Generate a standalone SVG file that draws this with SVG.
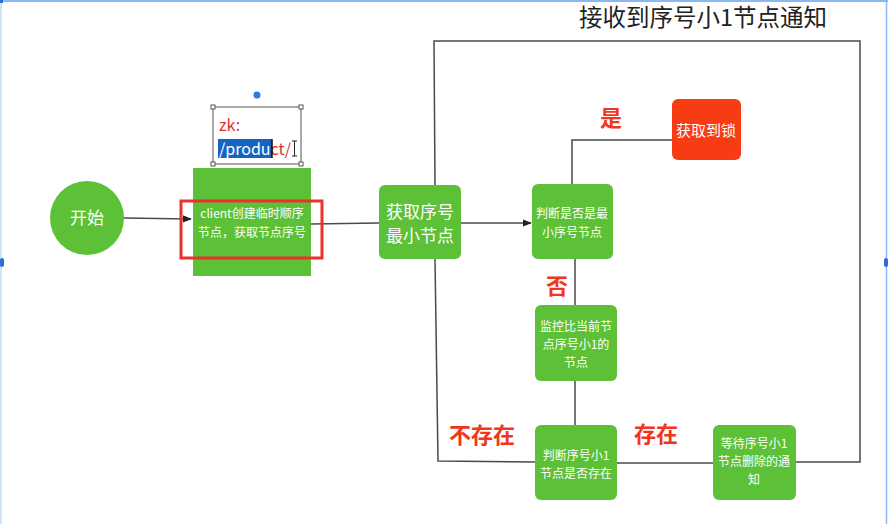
<svg xmlns="http://www.w3.org/2000/svg" width="888" height="524" viewBox="0 0 888 524">
  <style>
    text { font-family: "Noto Sans CJK SC", "Liberation Sans", sans-serif; }
    .node { fill: #5cc136; }
    .lock { fill: #f73b12; }
    .lbl { fill: #ffffff; text-anchor: middle; }
    .small { font-size: 12px; }
    .big { font-size: 17px; }
    .tag { fill: #f2361a; font-size: 22px; font-weight: bold; text-anchor: middle; }
    .wire { fill: none; stroke: #4a4a4a; stroke-width: 1.5; }
    .handle { fill: #ffffff; stroke: #555555; stroke-width: 1; }
  </style>
  <defs>
    <marker id="arrow" viewBox="0 0 10 10" refX="9" refY="5" markerWidth="6" markerHeight="6" orient="auto">
      <path d="M0,1 L10,5 L0,9 z" fill="#222222"/>
    </marker>
  </defs>

  <rect width="888" height="524" fill="#ffffff"/>

  <!-- canvas selection frame -->
  <g id="frame">
    <line x1="0" y1="1" x2="888" y2="1" stroke="#8ab8f2" stroke-width="2"/>
    <line x1="1" y1="0" x2="1" y2="524" stroke="#cfe3fb" stroke-width="2"/>
    <line x1="886.5" y1="0" x2="886.5" y2="524" stroke="#8ab8f2" stroke-width="1.5"/>
    <rect x="0" y="0" width="3" height="3" fill="#2b6fd6"/>
    <rect x="0" y="258" width="4" height="9" rx="2" fill="#2b6fd6"/>
    <rect x="884" y="258" width="4" height="9" rx="2" fill="#2b6fd6"/>
  </g>

  <!-- title -->
  <text x="703" y="26" font-size="23.5" fill="#222222" text-anchor="middle">接收到序号小1节点通知</text>

  <!-- connectors -->
  <g id="connectors">
    <line class="wire" x1="124" y1="218" x2="191" y2="219" marker-end="url(#arrow)"/>
    <line class="wire" x1="311" y1="224" x2="379" y2="223"/>
    <line class="wire" x1="461" y1="223" x2="531" y2="223" marker-end="url(#arrow)"/>
    <polyline class="wire" points="572,184 572,140 672,140"/>
    <line class="wire" x1="575" y1="259" x2="575" y2="305"/>
    <line class="wire" x1="575" y1="381" x2="575" y2="425"/>
    <line class="wire" x1="617" y1="463" x2="713" y2="463"/>
    <polyline class="wire" points="796,462 860,462 860,41 434,41 435,185"/>
    <polyline class="wire" points="435,259 438,461 535,462"/>
  </g>

  <!-- edge labels -->
  <text class="tag" x="611" y="126">是</text>
  <text class="tag" x="557" y="294">否</text>
  <text class="tag" x="482" y="443" font-size="24">不存在</text>
  <text class="tag" x="656" y="442" font-size="24">存在</text>

  <g id="start">
    <circle cx="87" cy="218" r="37" class="node"/>
    <text class="lbl" x="87" y="224" font-size="17">开始</text>
  </g>

  <g id="create">
    <rect x="193" y="168" width="118" height="108" class="node"/>
    <text class="lbl small" x="252" y="218">client创建临时顺序</text>
    <text class="lbl small" x="252" y="237">节点，获取节点序号</text>
    <rect x="181" y="201" width="141" height="57" fill="none" stroke="#e8332a" stroke-width="3"/>
  </g>

  <g id="zk-note">
    <circle cx="257" cy="95" r="3.5" fill="#2b7be4"/>
    <rect x="213" y="107" width="88" height="57" fill="#ffffff" stroke="#555555" stroke-width="1"/>
    <rect x="211" y="105" width="4" height="4" class="handle"/>
    <rect x="299" y="105" width="4" height="4" class="handle"/>
    <rect x="211" y="162" width="4" height="4" class="handle"/>
    <rect x="299" y="162" width="4" height="4" class="handle"/>
    <text x="219" y="131" font-size="16" fill="#e0322b" font-family="Open Sans, Liberation Sans, sans-serif">zk:</text>
    <rect x="218" y="139" width="54" height="19" fill="#1565c0"/>
    <text x="219" y="155" font-size="16" font-family="Open Sans, Liberation Sans, sans-serif"><tspan fill="#ffffff">/produ</tspan><tspan fill="#e0322b">ct/</tspan></text>
    <line x1="272" y1="139" x2="272" y2="158" stroke="#111111" stroke-width="1.5"/>
    <path d="M292,141 h5 M294.5,141 v15 M292,156 h5" stroke="#222222" stroke-width="1" fill="none"/>
  </g>

  <g id="get-min">
    <rect x="379" y="185" width="82" height="74" rx="6" class="node"/>
    <text class="lbl big" x="420" y="218">获取序号</text>
    <text class="lbl big" x="420" y="242">最小节点</text>
  </g>

  <g id="is-min">
    <rect x="532" y="184" width="81" height="75" rx="6" class="node"/>
    <text class="lbl small" x="572" y="218">判断是否是最</text>
    <text class="lbl small" x="572" y="237">小序号节点</text>
  </g>

  <g id="lock">
    <rect x="672" y="99" width="69" height="61" rx="6" class="lock"/>
    <text class="lbl" x="706" y="136" font-size="15">获取到锁</text>
  </g>

  <g id="watch">
    <rect x="535" y="305" width="82" height="76" rx="6" class="node"/>
    <text class="lbl small" x="576" y="331">监控比当前节</text>
    <text class="lbl small" x="576" y="349">点序号小1的</text>
    <text class="lbl small" x="576" y="367">节点</text>
  </g>

  <g id="exists">
    <rect x="535" y="425" width="82" height="75" rx="6" class="node"/>
    <text class="lbl small" x="576" y="460">判断序号小1</text>
    <text class="lbl small" x="576" y="478">节点是否存在</text>
  </g>

  <g id="wait">
    <rect x="713" y="425" width="83" height="75" rx="6" class="node"/>
    <text class="lbl small" x="754" y="448">等待序号小1</text>
    <text class="lbl small" x="754" y="466">节点删除的通</text>
    <text class="lbl small" x="754" y="484">知</text>
  </g>
</svg>
